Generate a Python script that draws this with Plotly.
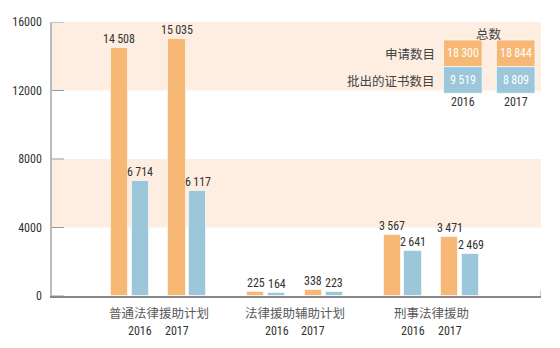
import plotly.graph_objects as go

# ---- data ----
categories = ["普通法律援助计划", "法律援助辅助计划", "刑事法律援助"]
years = ["2016", "2017"]
applications = [[14508, 15035], [225, 338], [3567, 3471]]   # 申请数目
granted = [[6714, 6117], [164, 223], [2641, 2469]]          # 批出的证书数目
total_apps = [18300, 18844]
total_granted = [9519, 8809]
series_names = ["申请数目", "批出的证书数目"]
y_ticks = [0, 4000, 8000, 12000, 16000]

# ---- styling / layout parameters ----
ORANGE = "#f6b874"
BLUE = "#9cc6d9"
BAND = "#fdeee1"
W, H = 560, 348
L, R, T, B = 48, 19, 22, 52
X0, X1 = L, W - R
YMAX = 16000
NUM = "Liberation Sans Narrow, Roboto Condensed, Arial Narrow, sans-serif"
CJK = "Noto Sans CJK SC, sans-serif"

first_bar = 116.0
group_pitch = 137.5
year_pitch = 58.0
bar_pitch = 21.0
bar_w = 17.3


def fmt(v):
    s = f"{v:,}"
    return s.replace(",", "\u2009")


def px_to_y(py):
    return (H - B - py) / (H - T - B) * YMAX


def px_to_paper(py):
    return (H - B - py) / (H - T - B)


def ann(x, y, text, font, xref="x", yref="paper", xanchor="center", yanchor="middle"):
    return dict(x=x, y=y, xref=xref, yref=yref, text=text, showarrow=False,
                xanchor=xanchor, yanchor=yanchor, font=font)


fig = go.Figure()
annotations = []
shapes = []

# background bands
for lo, hi in [(4000, 8000), (12000, 16000)]:
    shapes.append(dict(type="rect", xref="paper", yref="y", x0=0, x1=1, y0=lo, y1=hi,
                       fillcolor=BAND, line_width=0, layer="below"))

for si, (vals, col) in enumerate([(applications, ORANGE), (granted, BLUE)]):
    xs, ys = [], []
    for gi in range(len(categories)):
        for yi in range(len(years)):
            x = first_bar + gi * group_pitch + yi * year_pitch + si * bar_pitch
            v = vals[gi][yi]
            xs.append(x)
            ys.append(v)
            annotations.append(ann(x, v, fmt(v), dict(family=NUM, size=12, color="#333"),
                                   yref="y", yanchor="bottom"))
    fig.add_trace(go.Bar(x=xs, y=ys, width=bar_w, name=series_names[si],
                         marker=dict(color=col, line=dict(color="rgba(255,255,255,0.6)", width=1)),
                         showlegend=False, hoverinfo="skip"))

# category + year labels
for gi, cat in enumerate(categories):
    gc = first_bar + gi * group_pitch + (year_pitch + bar_pitch) / 2
    annotations.append(ann(gc, px_to_paper(312.5), cat, dict(family=CJK, size=12.5, color="#5a5a5a")))
    for yi, yr in enumerate(years):
        annotations.append(ann(gc + (yi - 0.5) * 37, px_to_paper(330.5), yr,
                               dict(family=NUM, size=12, color="#333")))

# y tick marks (inward)
for t in y_ticks:
    shapes.append(dict(type="line", xref="x", yref="y", x0=X0, x1=X0 + 12, y0=t, y1=t,
                       line=dict(color="#999", width=1)))
# right end tick on baseline
shapes.append(dict(type="line", xref="x", yref="y", x0=X1, x1=X1, y0=0, y1=px_to_y(290),
                   line=dict(color="#999", width=1)))

# legend / totals box
box_x = [(442.7, 481.7), (496.0, 535.0)]
rows = [(40.0, 66.7, ORANGE, total_apps), (66.7, 93.3, BLUE, total_granted)]
for yi, (bx0, bx1) in enumerate(box_x):
    for (ry0, ry1, col, vals) in rows:
        shapes.append(dict(type="rect", xref="x", yref="paper", x0=bx0, x1=bx1,
                           y0=px_to_paper(ry1), y1=px_to_paper(ry0), fillcolor=col,
                           line=dict(color="rgba(255,255,255,0.7)", width=1)))
        annotations.append(ann((bx0 + bx1) / 2, px_to_paper((ry0 + ry1) / 2), fmt(vals[yi]),
                               dict(family=NUM, size=12, color="white")))
    annotations.append(ann((bx0 + bx1) / 2, px_to_paper(102), years[yi],
                           dict(family=NUM, size=12, color="#333")))
annotations.append(ann((box_x[0][0] + box_x[1][1]) / 2, px_to_paper(33), "总数",
                       dict(family=CJK, size=12.5, color="#444")))
for (ry0, ry1, col, vals), nm in zip(rows, series_names):
    annotations.append(ann(436, px_to_paper((ry0 + ry1) / 2), nm,
                           dict(family=CJK, size=12.5, color="#444"), xanchor="right"))

fig.update_layout(
    width=W, height=H,
    margin=dict(l=L, r=R, t=T, b=B, pad=0),
    paper_bgcolor="white", plot_bgcolor="rgba(0,0,0,0)",
    bargap=0,
    xaxis=dict(range=[X0, X1], showgrid=False, zeroline=False, showticklabels=False, ticks="",
               showline=True, linecolor="#888", linewidth=1.5, fixedrange=True),
    yaxis=dict(range=[0, YMAX], tickvals=y_ticks, ticktext=[str(t) for t in y_ticks],
               showgrid=False, zeroline=False, showline=True, linecolor="#bbb", linewidth=1.5,
               ticks="", tickfont=dict(family=NUM, size=12, color="#333"), ticklabelstandoff=6,
               fixedrange=True),
    annotations=annotations, shapes=shapes,
)

fig.write_html("out.html")
